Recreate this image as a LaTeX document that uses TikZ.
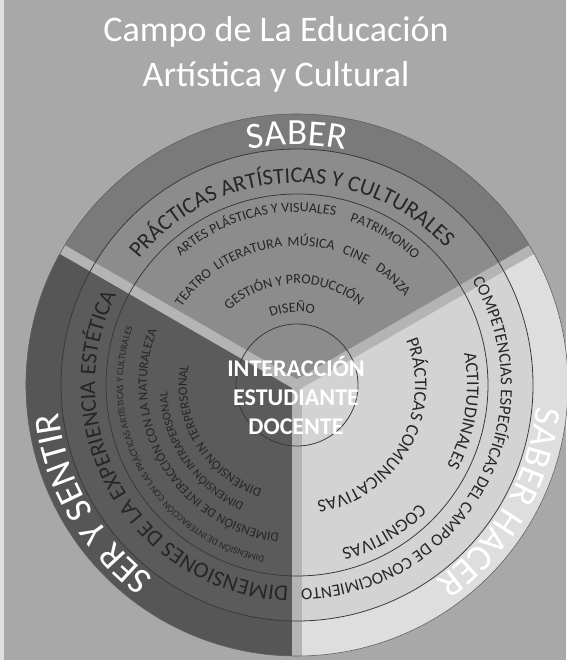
\documentclass[tikz,border=0pt]{standalone}
\usepackage{fontspec}
\setmainfont{Carlito}
\usetikzlibrary{decorations.text, calc}
\definecolor{bggray}{HTML}{A8A8A8}
\definecolor{topfill}{HTML}{8C8C8C}
\definecolor{topband}{HTML}{7A7A7A}
\definecolor{leftfill}{HTML}{5B5B5B}
\definecolor{leftband}{HTML}{565656}
\definecolor{rightfill}{HTML}{D3D3D3}
\definecolor{rightband}{HTML}{DEDEDE}
\definecolor{stripgray}{HTML}{B4B4B4}
\definecolor{linegray}{HTML}{3A3A3A}
\tikzset{
    ring/.style={draw=linegray, line width=0.8pt},
    divider/.style={draw=stripgray, line width=10pt},
    title/.style={text=white, font=\fontsize{36}{45}\selectfont, inner sep=0pt},
    core/.style={text=white, font=\bfseries\fontsize{24}{29}\selectfont, align=center, inner sep=0pt},
}
\newcommand{\ringtext}[5][black!85]{%
    \path[decorate, decoration={text along path, text align=center, text color=#1,
        text={|\fontsize{#4}{#4}\selectfont|#5}}]
        ($(c)+(#3+85:#2pt)$) arc[start angle=#3+85, end angle=#3-85, radius=#2pt];
}

\begin{document}
\begin{tikzpicture}[x=1pt, y=1pt]
\def\R{271pt}
\fill[bggray] (0,0) rectangle (566,660);
\fill[gray!25] (0,0) rectangle (4,660);
\useasboundingbox (0,0) rectangle (566,660);
\coordinate (c) at (297,275);

\fill[topfill] (c) -- ($(c)+(30:\R)$) arc[start angle=30, end angle=150, radius=\R] -- cycle;
\fill[leftfill] (c) -- ($(c)+(150:\R)$) arc[start angle=150, end angle=270, radius=\R] -- cycle;
\fill[rightfill] (c) -- ($(c)+(270:\R)$) arc[start angle=270, end angle=390, radius=\R] -- cycle;
\fill[topband] ($(c)+(30:\R)$) arc[start angle=30, end angle=150, radius=\R]
    -- ($(c)+(150:236pt)$) arc[start angle=150, end angle=30, radius=236pt] -- cycle;
\fill[leftband] ($(c)+(150:\R)$) arc[start angle=150, end angle=270, radius=\R]
    -- ($(c)+(270:236pt)$) arc[start angle=270, end angle=150, radius=236pt] -- cycle;
\fill[rightband] ($(c)+(270:\R)$) arc[start angle=270, end angle=390, radius=\R]
    -- ($(c)+(30:236pt)$) arc[start angle=390, end angle=270, radius=236pt] -- cycle;

\begin{scope}
\clip (c) circle[radius=\R];
\draw[divider] (c) -- ($(c)+(30:\R)$);
\draw[divider] (c) -- ($(c)+(150:\R)$);
\draw[divider] (c) -- ($(c)+(270:\R)$);
\end{scope}

\draw[ring] (c) circle[radius=236pt];
\draw[ring] (c) circle[radius=191pt];
\draw[ring] (c) circle[radius=61pt];
\draw[draw=linegray!80, line width=0.6pt] (c) circle[radius=\R];

\node[title, anchor=base] (title1) at (276,618) {Campo de La Educación};
\node[title, anchor=base] (title2) at (276,573) {Artística y Cultural};

\ringtext[white]{240}{90}{37}{SABER}
\ringtext[white]{240}{210}{37}{SER Y SENTIR}
\ringtext[white]{240}{330}{37}{SABER HACER}

\ringtext{202}{92}{22.5}{PRÁCTICAS ARTÍSTICAS Y CULTURALES}
\ringtext{202}{210.5}{22.5}{DIMENSIONES DE LA EXPERIENCIA ESTÉTICA}
\ringtext{204}{331}{17}{COMPETENCIAS ESPECÍFICAS DEL CAMPO DE CONOCIMIENTO}

\ringtext{173}{104.7}{14}{ARTES PLÁSTICAS Y VISUALES}
\ringtext{172}{59.5}{14}{PATRIMONIO}
\ringtext{139}{136.7}{14}{TEATRO}
\ringtext{139}{110.4}{14}{LITERATURA}
\ringtext{139}{84.3}{14}{MÚSICA}
\ringtext{139}{65.6}{14}{CINE}
\ringtext{139}{47.6}{14}{DANZA}
\ringtext{101}{92}{14}{GESTIÓN Y PRODUCCIÓN}
\ringtext{73}{93.7}{14}{DISEÑO}

\ringtext{174}{210}{9.5}{DIMENSIÓN DE INTERACCIÓN CON LAS PRÁCTICAS ARTÍSTICAS Y CULTURALES}
\ringtext{150}{211}{13}{DIMENSIÓN DE INTERACCIÓN CON LA NATURALEZA}
\ringtext{130}{214.5}{12}{DIMENSIÓN INTRAPERSONAL}
\ringtext{110}{210.7}{13}{DIMENSIÓN IN TERPERSONAL}

\ringtext{170}{351.3}{18}{ACTITUDINALES}
\ringtext{170}{300.5}{18}{COGNITIVAS}
\ringtext{118}{331}{18}{PRÁCTICAS COMUNICATIVAS}

\node[core] (core) at (296,264) {INTERACCIÓN\\ESTUDIANTE\\DOCENTE};
\end{tikzpicture}
\end{document}
